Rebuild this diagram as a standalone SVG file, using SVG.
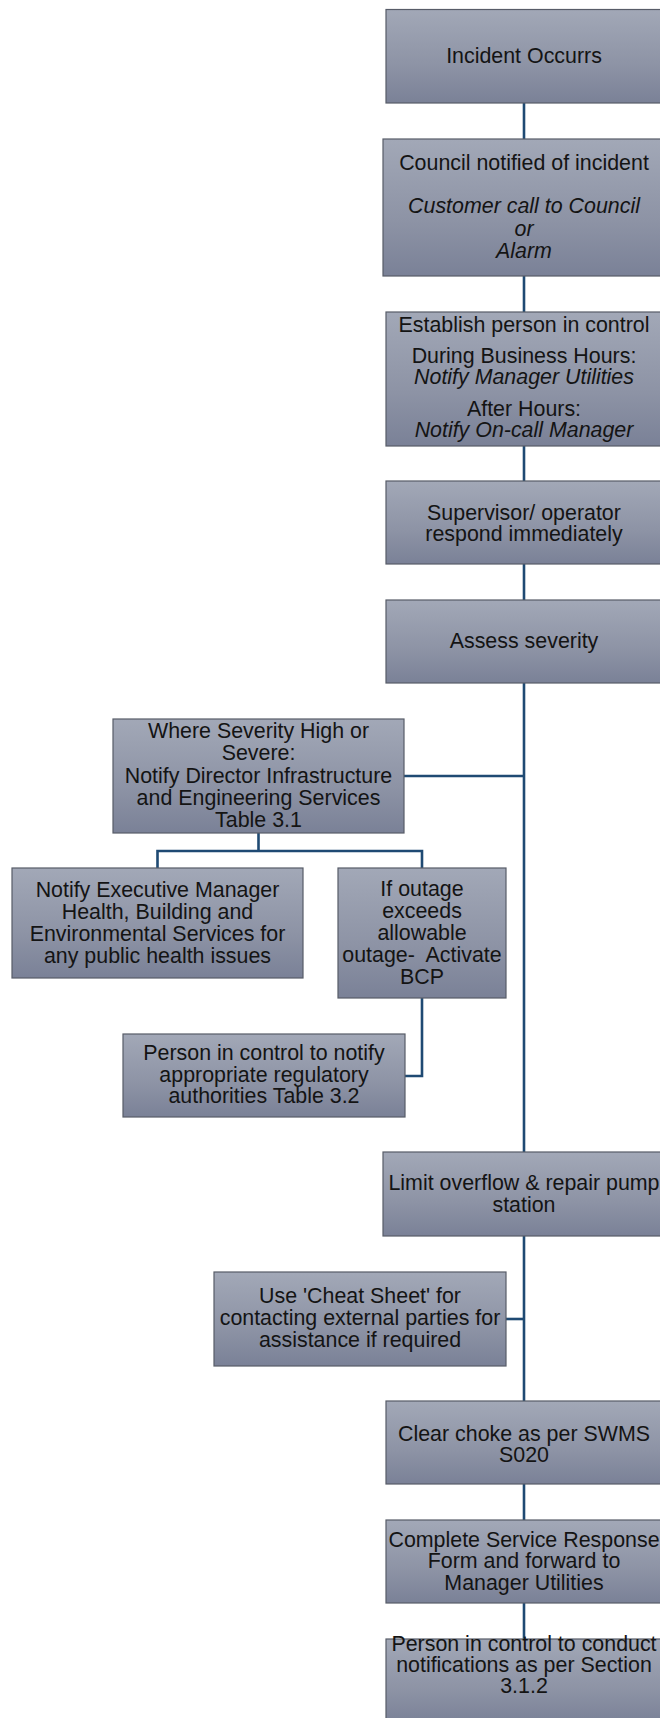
<svg xmlns="http://www.w3.org/2000/svg" width="660" height="1718" viewBox="0 0 660 1718">
<defs>
<linearGradient id="g" x1="0" y1="0" x2="0" y2="1">
<stop offset="0" stop-color="#a2a8b7"/>
<stop offset="0.6" stop-color="#8d93a5"/>
<stop offset="1" stop-color="#7a8197"/>
</linearGradient>
</defs>
<style>
.box{fill:url(#g);stroke:#575c68;stroke-width:1.2}
.sh{fill:none;stroke:#d4d6da;stroke-width:1}
.t{font-family:"Liberation Sans",Arial,sans-serif;font-size:21.4px;fill:#141414;text-anchor:middle}
.i{font-style:italic}
.c{stroke:#1f4a73;stroke-width:2.6;fill:none}
</style>
<rect width="660" height="1718" fill="#ffffff"/>
<g id="connectors">
<line class="c" x1="524" y1="103" x2="524" y2="139"/>
<line class="c" x1="524" y1="276" x2="524" y2="312"/>
<line class="c" x1="524" y1="446" x2="524" y2="481"/>
<line class="c" x1="524" y1="564" x2="524" y2="600"/>
<line class="c" x1="524" y1="683" x2="524" y2="1152"/>
<line class="c" x1="524" y1="776" x2="404" y2="776"/>
<polyline class="c" points="258.5,833 258.5,851"/>
<polyline class="c" points="157.5,868 157.5,851 422,851 422,868"/>
<polyline class="c" points="422,998 422,1076 405,1076"/>
<line class="c" x1="524" y1="1236" x2="524" y2="1401"/>
<line class="c" x1="524" y1="1319" x2="506" y2="1319"/>
<line class="c" x1="524" y1="1484" x2="524" y2="1520"/>
<line class="c" x1="524" y1="1603" x2="524" y2="1639"/>
</g>
<g id="n1">
<rect class="box" x="386" y="9.5" width="280" height="93.5"/>
<text class="t" x="524" y="63">Incident Occurrs</text>
</g>
<g id="n2">
<rect class="box" x="383" y="139" width="285" height="137"/>
<text class="t" x="524" y="170">Council notified of incident</text>
<text class="t i" x="524" y="213">Customer call to Council</text>
<text class="t i" x="524" y="235.5">or</text>
<text class="t i" x="524" y="258">Alarm</text>
</g>
<g id="n3">
<rect class="box" x="386" y="312" width="280" height="134"/>
<text class="t" x="524" y="332">Establish person in control</text>
<text class="t" x="524" y="363">During Business Hours:</text>
<text class="t i" x="524" y="384">Notify Manager Utilities</text>
<text class="t" x="524" y="415.5">After Hours:</text>
<text class="t i" x="524" y="436.5">Notify On-call Manager</text>
</g>
<g id="n4">
<rect class="box" x="386" y="481" width="280" height="83"/>
<text class="t" x="524" y="519.5">Supervisor/ operator</text>
<text class="t" x="524" y="540.5">respond immediately</text>
</g>
<g id="n5">
<rect class="box" x="386" y="600" width="280" height="83"/>
<text class="t" x="524" y="648">Assess severity</text>
</g>
<g id="n6">
<rect class="box" x="113" y="719" width="291" height="114"/>
<text class="t" x="258.5" y="738.3">Where Severity High or</text>
<text class="t" x="258.5" y="760.4">Severe:</text>
<text class="t" x="258.5" y="782.5">Notify Director Infrastructure</text>
<text class="t" x="258.5" y="804.6">and Engineering Services</text>
<text class="t" x="258.5" y="826.7">Table 3.1</text>
</g>
<g id="n7">
<rect class="box" x="12" y="868" width="291" height="110"/>
<text class="t" x="157.5" y="896.7">Notify Executive Manager</text>
<text class="t" x="157.5" y="918.7">Health, Building and</text>
<text class="t" x="157.5" y="940.7">Environmental Services for</text>
<text class="t" x="157.5" y="962.7">any public health issues</text>
</g>
<g id="n8">
<rect class="box" x="338" y="868" width="168" height="130"/>
<text class="t" x="422" y="896">If outage</text>
<text class="t" x="422" y="918">exceeds</text>
<text class="t" x="422" y="940">allowable</text>
<text class="t" x="422" y="962" xml:space="preserve">outage-  Activate</text>
<text class="t" x="422" y="984">BCP</text>
</g>
<g id="n9">
<rect class="box" x="123" y="1034" width="282" height="83"/>
<text class="t" x="264" y="1060">Person in control to notify</text>
<text class="t" x="264" y="1081.5">appropriate regulatory</text>
<text class="t" x="264" y="1103">authorities Table 3.2</text>
</g>
<g id="n10">
<rect class="box" x="383" y="1152" width="285" height="84"/>
<text class="t" x="524" y="1190">Limit overflow &amp; repair pump</text>
<text class="t" x="524" y="1211.7">station</text>
</g>
<g id="n11">
<rect class="box" x="214" y="1272" width="292" height="94"/>
<text class="t" x="360" y="1302.7">Use 'Cheat Sheet' for</text>
<text class="t" x="360" y="1325">contacting external parties for</text>
<text class="t" x="360" y="1346.7">assistance if required</text>
</g>
<g id="n12">
<rect class="box" x="386" y="1401" width="280" height="83"/>
<text class="t" x="524" y="1440.7">Clear choke as per SWMS</text>
<text class="t" x="524" y="1461.7">S020</text>
</g>
<g id="n13">
<rect class="box" x="386" y="1520" width="280" height="83"/>
<text class="t" x="524" y="1546.7">Complete Service Response</text>
<text class="t" x="524" y="1568.3">Form and forward to</text>
<text class="t" x="524" y="1590">Manager Utilities</text>
</g>
<g id="n14">
<rect class="box" x="386" y="1639" width="280" height="84"/>
<text class="t" x="524" y="1650.7">Person in control to conduct</text>
<text class="t" x="524" y="1672.3">notifications as per Section</text>
<text class="t" x="524" y="1693.3">3.1.2</text>
</g>
</svg>
